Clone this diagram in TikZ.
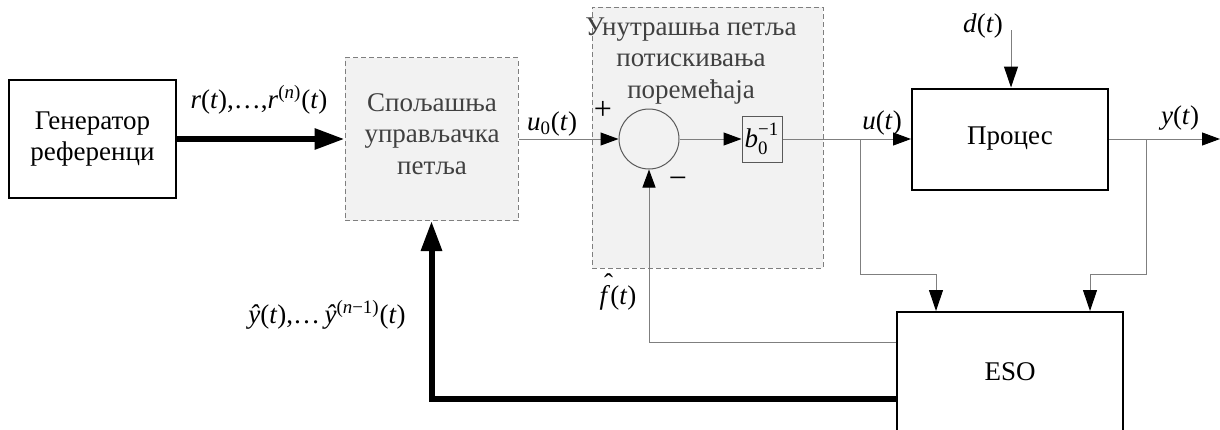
\documentclass[tikz,border=0pt]{standalone}
\usepackage{amsmath}
\usepackage{fontspec}
\setmainfont{LiberationSerif}[Extension=.ttf, UprightFont=*-Regular, ItalicFont=*-Italic, BoldFont=*-Bold, BoldItalicFont=*-BoldItalic]
\usepackage{tikz}
\usetikzlibrary{shapes,arrows.meta}
\definecolor{loopfill}{HTML}{F2F2F2}
\definecolor{wiregray}{HTML}{7F7F7F}
\newcommand{\sig}[1]{\textit{#1}(\textit{t})}
\newcommand{\fhat}{\makebox[0pt][l]{\hspace{0.16em}\raisebox{0.45em}{ˆ}}\textit{f}}
\tikzset{x=0.5pt, y=-0.5pt, font=\fontsize{13.5}{15.75}\selectfont}

\begin{document}
\begin{tikzpicture}
	\tikzstyle{block}=[draw, rectangle, line width=1pt, inner sep=0pt, align=center]
	\tikzstyle{loopbox}=[draw=wiregray, fill=loopfill, rectangle, line width=0.5pt, dash pattern=on 2.5pt off 1.5pt, inner sep=0pt]
	\tikzstyle{wire}=[draw=wiregray, line width=0.5pt, -{Triangle[length=9pt, width=6.5pt, color=black]}]
	\tikzstyle{bigwire}=[wire, -{Triangle[length=10.5pt, width=7pt, color=black]}]
	\tikzstyle{bus}=[line width=3pt, -{Triangle[length=15pt, width=10pt]}]
	\clip (0,0) rectangle (1220,429);
	\node[loopbox, minimum width=86.5pt, minimum height=81.5pt] (outer) at (431.5,139) {};
	\node[loopbox, minimum width=115.5pt, minimum height=130.5pt] (inner) at (707.5,137.5) {};
	\node[block] (gen) at (92.5,139) [minimum width=83.5pt, minimum height=59pt] {Генератор\\референци};
	\node[align=center, text=black!75] (outtxt) at (432,134) {Спољашња\\управљачка\\петља};
	\node[align=center, text=black!75] (intxt) at (691,61) {Унутрашња петља\\потискивања\\поремећаја};
	\node[circle, draw=black!65, line width=0.5pt, minimum size=30pt, inner sep=0pt] (sum) at (649,139) {};
	\node[rectangle, draw=black!65, line width=0.5pt, minimum width=20pt, minimum height=23pt, inner sep=0pt] (gain) at (762,139) {$\textit{b}_{\text{0}}^{\text{−1}}$};
	\node[block, minimum width=98pt, minimum height=50.5pt] (proc) at (1010,139) {Процес};
	\node[block, minimum width=113pt, minimum height=60pt] (eso) at (1010,372) {ESO};
	\node (plus) at (603,110) {\fontsize{16}{16}\selectfont +};
	\node (minus) at (678,183) {\fontsize{16}{16}\selectfont −};
	\node (rlab) at (259,100) {\sig{r},\ldots,\textit{r}$^{\text{(\textit{n})}}$(\textit{t})};
	\node (u0lab) at (552,124) {\textit{u}$_{\text{0}}$(\textit{t})};
	\node (ulab) at (882,123) {\sig{u}};
	\node (ylab) at (1180,118) {\sig{y}};
	\node (dlab) at (983,26) {\sig{d}};
	\node[inner sep=1pt] (flab) at (618,292) {\fhat(\textit{t})};
	\node (yhlab) at (327,315) {\sig{ŷ},\ldots\,\textit{ŷ}$^{\text{(\textit{n}−1)}}$(\textit{t})};
	\coordinate (din) at (1011,30);
	\coordinate (yout) at (1220,139);
	\coordinate (ub) at (860,139);
	\coordinate (ut) at (936,274);
	\coordinate (yb) at (1146,139);
	\coordinate (yt) at (1090,274);
	\draw[bus] (gen.east) -- (outer.west);
	\draw[wire] (outer.east) -- (sum.west);
	\draw[wire] (sum.east) -- (gain.west);
	\draw[wire] (gain.east) -- (proc.west);
	\draw[wire] (proc.east) -- (yout);
	\draw[bigwire] (din) -- (din |- proc.north);
	\draw[bigwire] (ub) |- (ut) -- (ut |- eso.north);
	\draw[bigwire] (yb) |- (yt) -- (yt |- eso.north);
	\draw[wire] ([yshift=15pt]eso.west) -| (sum.south);
	\draw[bus] ([yshift=-13.5pt]eso.west) -| (outer.south);
\end{tikzpicture}
\end{document}
